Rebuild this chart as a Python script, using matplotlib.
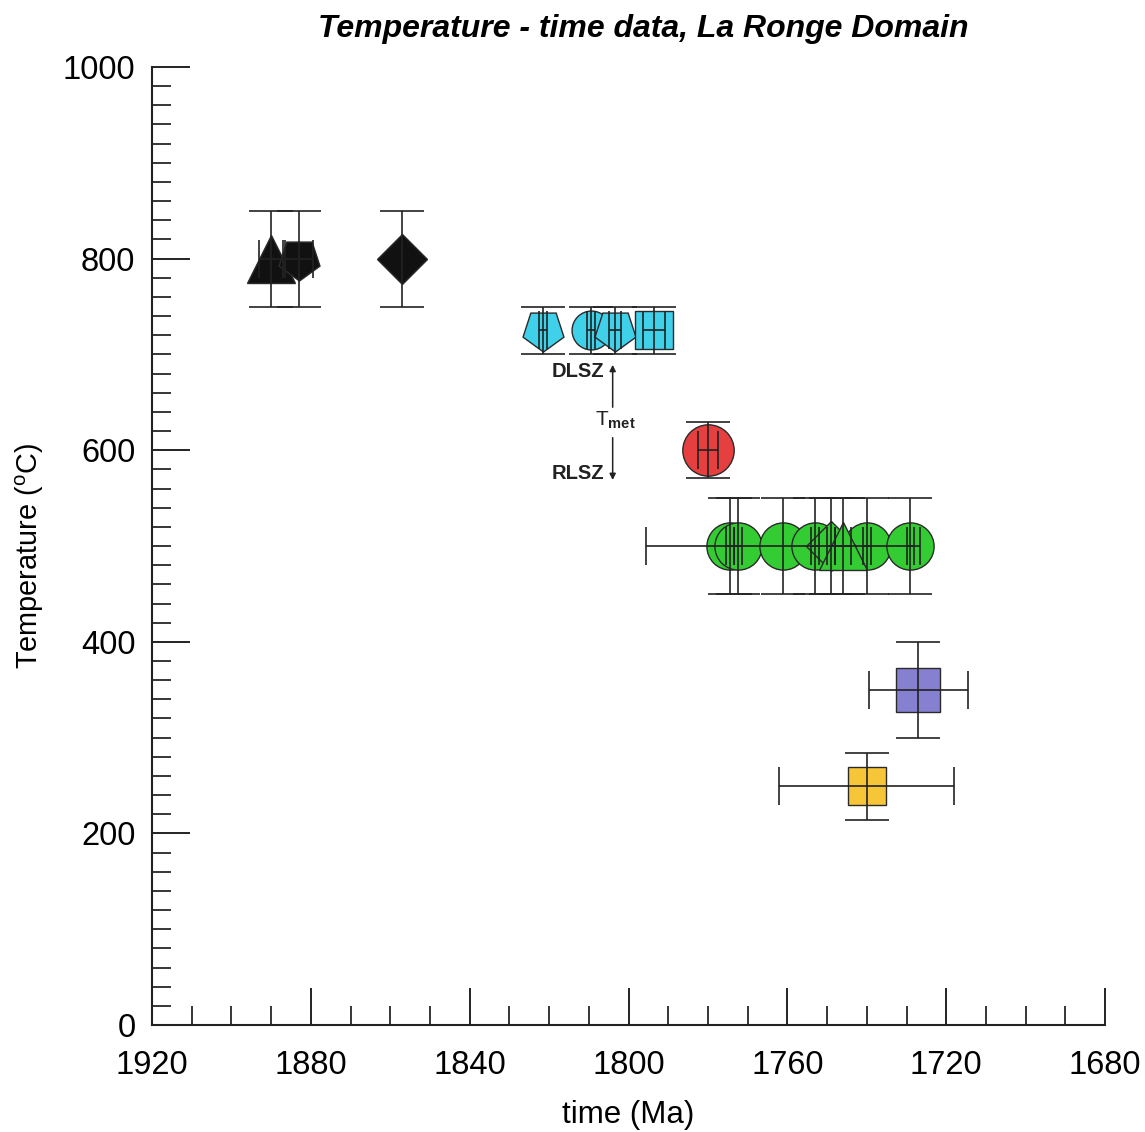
import matplotlib
matplotlib.use('Agg')
import matplotlib.pyplot as plt
from matplotlib.ticker import MultipleLocator

plt.rcParams['font.family'] = ['Liberation Sans', 'DejaVu Sans']
plt.rcParams['mathtext.fontset'] = 'custom'
plt.rcParams['mathtext.rm'] = 'Liberation Sans'
plt.rcParams['mathtext.it'] = 'Liberation Sans:italic'
plt.rcParams['mathtext.bf'] = 'Liberation Sans:bold'

# ---------------- data ----------------
black_time = [1890, 1883, 1857]
black_temp = [800, 800, 800]
black_xerr = [3, 3.5, 0]
black_yerr = [50, 50, 50]
black_kind = ['tri', 'pent', 'dia']

cyan_time = [1821.5, 1809.5, 1803.5, 1793.5]
cyan_temp = [725, 725, 725, 725]
cyan_xerr = [1, 1, 1.5, 2.8]
cyan_yerr = [25, 25, 25, 25]
cyan_kind = ['pent', 'circ', 'pent', 'sq']

red_time = [1780]
red_temp = [600]
red_xerr = [2.5]
red_yerr = [29]
red_kind = ['circ']

green_time = [1774.5, 1772.5, 1761, 1753, 1740, 1729, 1749, 1746]
green_temp = [500, 500, 500, 500, 500, 500, 500, 500]
green_xerr = [1, 1, 34.5, 1, 1, 1, 1, 2]
green_yerr = [50, 50, 50, 50, 50, 50, 50, 50]
green_kind = ['circ', 'circ', 'circ', 'circ', 'circ', 'circ', 'dia', 'tri']

purple_time = [1727]
purple_temp = [350]
purple_xerr = [12.5]
purple_yerr = [50]
purple_kind = ['sq']

yellow_time = [1740]
yellow_temp = [249]
yellow_xerr = [22]
yellow_yerr = [35]
yellow_kind = ['sq']

x_ticks = [1920, 1880, 1840, 1800, 1760, 1720, 1680]
y_ticks = [0, 200, 400, 600, 800, 1000]

# ---------------- styles ----------------
marker_of = {'tri': '^', 'pent': (5, 0, 180), 'circ': 'o', 'sq': 's', 'dia': 'D'}
black_sizes = {'tri': 34, 'pent': 31, 'dia': 25}
cyan_sizes = {'pent': 31, 'circ': 28, 'sq': 28}
red_sizes = {'circ': 37}
green_sizes = {'circ': 34, 'dia': 25, 'tri': 34}
purple_sizes = {'sq': 32}
yellow_sizes = {'sq': 28}

groups = [
    (black_time, black_temp, black_xerr, black_yerr, black_kind, '#111111', black_sizes),
    (cyan_time, cyan_temp, cyan_xerr, cyan_yerr, cyan_kind, '#3fd0ea', cyan_sizes),
    (red_time, red_temp, red_xerr, red_yerr, red_kind, '#e5403f', red_sizes),
    (green_time, green_temp, green_xerr, green_yerr, green_kind, '#33cc33', green_sizes),
    (purple_time, purple_temp, purple_xerr, purple_yerr, purple_kind, '#8580d0', purple_sizes),
    (yellow_time, yellow_temp, yellow_xerr, yellow_yerr, yellow_kind, '#f7c638', yellow_sizes),
]

fig = plt.figure(figsize=(11.45, 11.32), dpi=100)
ax = fig.add_axes([0.1328, 0.0945, 0.8323, 0.8463])

z = 3
for t, T, xe, ye, kinds, col, sizes in groups:
    for ti, Ti, xi, yi, k in zip(t, T, xe, ye, kinds):
        ax.plot([ti], [Ti], linestyle='none', marker=marker_of[k],
                markersize=sizes[k], markerfacecolor=col,
                markeredgecolor='#2a2a2a', markeredgewidth=1.0, zorder=z)
        z += 0.01
        ax.errorbar([ti], [Ti], yerr=[yi], fmt='none', ecolor='#222222',
                    elinewidth=1.2, capsize=16, capthick=1.2, zorder=10)
        if xi > 0:
            ax.errorbar([ti], [Ti], xerr=[xi], fmt='none', ecolor='#222222',
                        elinewidth=1.2, capsize=14, capthick=1.2, zorder=10)

# annotations
ax.annotate('', xy=(1804, 692), xytext=(1804, 642),
            arrowprops=dict(arrowstyle='-|>', lw=1.1, color='#222222', mutation_scale=9))
ax.annotate('', xy=(1804, 566), xytext=(1804, 616),
            arrowprops=dict(arrowstyle='-|>', lw=1.1, color='#222222', mutation_scale=9))
ax.text(1806, 682, 'DLSZ', ha='right', va='center', fontsize=14.5, fontweight='bold',
        color='#222222')
ax.text(1806, 576, 'RLSZ', ha='right', va='center', fontsize=14.5, fontweight='bold',
        color='#222222')
ax.text(1808.5, 631, r'T$_{\mathbf{met}}$', ha='left', va='center', fontsize=15,
        color='#222222')

ax.set_xlim(1920, 1680)
ax.set_ylim(0, 1000)
ax.set_xticks(x_ticks)
ax.set_yticks(y_ticks)
ax.xaxis.set_minor_locator(MultipleLocator(10))
ax.yaxis.set_minor_locator(MultipleLocator(20))
ax.tick_params(axis='both', which='major', direction='in', length=27, width=1.3,
               labelsize=23.5, colors='#111111', labelcolor='black')
ax.tick_params(axis='both', which='minor', direction='in', length=13.5, width=1.1)
ax.tick_params(axis='x', which='major', pad=18)
ax.tick_params(axis='y', which='major', pad=12)
for s in ['top', 'right']:
    ax.spines[s].set_visible(False)
for s in ['left', 'bottom']:
    ax.spines[s].set_linewidth(1.5)
    ax.spines[s].set_color('#222222')

ax.set_xlabel('time (Ma)', fontsize=22.5, labelpad=14)
ax.set_ylabel(r'Temperature ($^{\mathrm{o}}$C)', fontsize=20.8)
ax.yaxis.set_label_coords(-0.111, 0.49)
fig.text(0.5616, 0.974, 'Temperature - time data, La Ronge Domain', ha='center', va='center',
         fontsize=23, fontweight='bold', fontstyle='italic')

fig.savefig('out.png', dpi=100)
